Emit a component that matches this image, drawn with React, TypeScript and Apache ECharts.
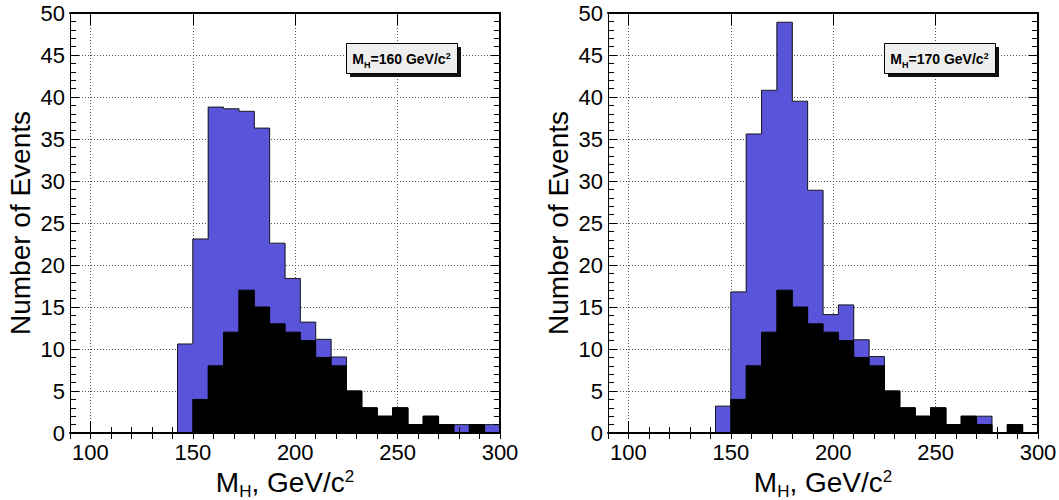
import React, { useEffect, useRef } from "react";
import * as echarts from "echarts";

// ---- data ----
const BIN_WIDTH = 7.5;
const binStarts = [142.5, 150, 157.5, 165, 172.5, 180, 187.5, 195, 202.5, 210, 217.5, 225, 232.5, 240, 247.5, 255, 262.5, 270, 277.5, 285, 292.5];
// signal + background (blue), M_H = 160
const total160 = [10.6, 23.1, 38.8, 38.6, 38.3, 36.3, 22.6, 18.4, 13.2, 11.15, 9.05, 5, 3, 2, 3, 1, 2, 1, 1, 1, 1];
// signal + background (blue), M_H = 170
const total170 = [3.2, 16.8, 35.6, 40.8, 48.9, 39.5, 28.9, 14.1, 15.25, 11.1, 9.1, 5, 3, 2, 3, 1, 2, 2, 0, 1, 0];
// background (black), same in both panels
const background = [0, 4, 8, 12, 17, 15, 13, 12, 11, 9, 8, 5, 3, 2, 3, 1, 2, 1, 0, 1, 0];
const panelLabels = ["160", "170"];

const X_MIN = 90;
const X_MAX = 300;
const Y_MIN = 0;
const Y_MAX = 50;

const BLUE = "#5954D9";
const FONT = "Liberation Sans, Arial, Helvetica, sans-serif";

function barData(vals: number[]) {
  return binStarts.map((x, i) => [x, x + BIN_WIDTH, vals[i]]);
}
function outlineData(vals: number[]) {
  const n = binStarts.length;
  const end = binStarts[n - 1] + BIN_WIDTH;
  const pts: number[][] = [[binStarts[0], 0]];
  binStarts.forEach((x, i) => pts.push([x, vals[i]]));
  pts.push([end, vals[n - 1]]);
  pts.push([end, 0]);
  return pts;
}

function App() {
  const ref = useRef<HTMLDivElement>(null);
  useEffect(() => {
    if (!ref.current) return;
    const chart = echarts.init(ref.current, undefined, { renderer: "svg" });

    const grids = [
      { left: 70, top: 13, width: 430, height: 420, outerBoundsMode: "none", containLabel: false },
      { left: 608, top: 13, width: 430, height: 420, outerBoundsMode: "none", containLabel: false },
    ];

    const xAxes: any[] = [];
    const yAxes: any[] = [];
    const series: any[] = [];
    const graphics: any[] = [];

    grids.forEach((g, gi) => {
      const xBase = xAxes.length;
      const yBase = yAxes.length;
      // grid lines
      xAxes.push({
        gridIndex: gi, type: "value", min: X_MIN, max: X_MAX, splitNumber: 4, position: "bottom", z: 0,
        axisLine: { show: false }, axisTick: { show: false }, axisLabel: { show: false },
        splitLine: { show: true, lineStyle: { color: "#555", type: [1, 2], width: 1 } },
      });
      // main bottom axis
      xAxes.push({
        gridIndex: gi, type: "value", min: X_MIN, max: X_MAX, splitNumber: 4, position: "bottom", z: 10,
        axisLine: { show: true, onZero: false, lineStyle: { color: "#000", width: 2 } },
        axisTick: { show: true, inside: true, length: 12, lineStyle: { color: "#000", width: 1 } },
        axisLabel: {
          show: true, fontSize: 22, color: "#000", fontFamily: FONT, margin: 8,
          formatter: (v: number) => (v % 50 === 0 ? String(v) : ""),
        },
        splitLine: { show: false },
        name: "{m|M}{sub|H}{m|, GeV/c}{sup|2}",
        nameLocation: "middle",
        nameGap: 13,
        nameTextStyle: {
          fontSize: 28, color: "#000", fontFamily: FONT,
          rich: {
            m: { fontSize: 28, fontFamily: FONT, color: "#000", verticalAlign: "middle" },
            sub: { fontSize: 17, fontFamily: FONT, color: "#000", verticalAlign: "bottom", padding: [18, 0, 0, 0] },
            sup: { fontSize: 17, fontFamily: FONT, color: "#000", verticalAlign: "top", padding: [3, 0, 0, 0] },
          },
        },
      });
      // minor bottom ticks
      xAxes.push({
        gridIndex: gi, type: "value", min: X_MIN, max: X_MAX, interval: 10, position: "bottom", z: 10,
        axisLine: { show: false }, axisLabel: { show: false }, splitLine: { show: false },
        axisTick: { show: true, inside: true, length: 6, lineStyle: { color: "#000", width: 1 } },
      });
      // top axis
      xAxes.push({
        gridIndex: gi, type: "value", min: X_MIN, max: X_MAX, splitNumber: 4, position: "top", z: 10,
        axisLine: { show: true, onZero: false, lineStyle: { color: "#000", width: 2 } },
        axisTick: { show: true, inside: true, length: 12, lineStyle: { color: "#000", width: 1 } },
        axisLabel: { show: false }, splitLine: { show: false },
      });
      xAxes.push({
        gridIndex: gi, type: "value", min: X_MIN, max: X_MAX, interval: 10, position: "top", z: 10,
        axisLine: { show: false }, axisLabel: { show: false }, splitLine: { show: false },
        axisTick: { show: true, inside: true, length: 6, lineStyle: { color: "#000", width: 1 } },
      });

      yAxes.push({
        gridIndex: gi, type: "value", min: Y_MIN, max: Y_MAX, interval: 5, position: "left", z: 0,
        axisLine: { show: false }, axisTick: { show: false }, axisLabel: { show: false },
        splitLine: { show: true, lineStyle: { color: "#555", type: [1, 2], width: 1 } },
      });
      yAxes.push({
        gridIndex: gi, type: "value", min: Y_MIN, max: Y_MAX, interval: 5, position: "left", z: 10,
        axisLine: { show: true, onZero: false, lineStyle: { color: "#000", width: 1 } },
        axisTick: { show: true, inside: true, length: 9, lineStyle: { color: "#000", width: 1 } },
        minorTick: { show: true, splitNumber: 5, length: 6, lineStyle: { color: "#000", width: 1 } },
        axisLabel: { show: true, fontSize: 22, color: "#000", fontFamily: FONT, margin: 5 },
        splitLine: { show: false },
        name: "Number of Events",
        nameLocation: "middle",
        nameGap: 36,
        nameTextStyle: { fontSize: 28, color: "#000", fontFamily: FONT },
      });
      yAxes.push({
        gridIndex: gi, type: "value", min: Y_MIN, max: Y_MAX, interval: 5, position: "right", z: 10,
        axisLine: { show: true, onZero: false, lineStyle: { color: "#000", width: 2 } },
        axisTick: { show: true, inside: true, length: 9, lineStyle: { color: "#000", width: 1 } },
        minorTick: { show: true, splitNumber: 5, length: 6, lineStyle: { color: "#000", width: 1 } },
        axisLabel: { show: false }, splitLine: { show: false },
      });

      const totals = gi === 0 ? total160 : total170;
      const rectItem = (color: string) => (params: any, api: any) => {
        const lo = api.value(0);
        const hi = api.value(1);
        const v = api.value(2);
        const p0 = api.coord([lo, v]);
        const p1 = api.coord([hi, 0]);
        return {
          type: "rect",
          shape: { x: p0[0] - 0.3, y: p0[1], width: p1[0] - p0[0] + 0.6, height: p1[1] - p0[1] },
          style: { fill: color, stroke: null },
        };
      };
      series.push({
        type: "custom", xAxisIndex: xBase, yAxisIndex: yBase, z: 2,
        renderItem: rectItem(BLUE), encode: { x: [0, 1], y: 2 }, data: barData(totals),
      });
      series.push({
        type: "line", xAxisIndex: xBase, yAxisIndex: yBase, z: 3, step: "end", symbol: "none",
        lineStyle: { color: "#1a1a1a", width: 1 }, data: outlineData(totals),
      });
      series.push({
        type: "custom", xAxisIndex: xBase, yAxisIndex: yBase, z: 4,
        renderItem: rectItem("#000"), encode: { x: [0, 1], y: 2 }, data: barData(background),
      });
      series.push({
        type: "line", xAxisIndex: xBase, yAxisIndex: yBase, z: 5, step: "end", symbol: "none",
        lineStyle: { color: "#000", width: 1 }, data: outlineData(background),
      });

      const bx = gi === 0 ? 346 : 884;
      const by = 43;
      graphics.push({ type: "rect", left: bx + 4, top: by + 4, z: 20, shape: { width: 111, height: 30 }, style: { fill: "#111" } });
      graphics.push({ type: "rect", left: bx, top: by, z: 21, shape: { width: 111, height: 30 }, style: { fill: "#efefef", stroke: "#000", lineWidth: 1 } });
      graphics.push({
        type: "text", x: bx + 55.5, y: by + 16, z: 22,
        style: {
          text: `{b|M}{s|H}{b|=${panelLabels[gi]} GeV/c}{p|2}`,
          align: "center", verticalAlign: "middle",
          rich: {
            b: { fontSize: 14, fontWeight: "bold", fontFamily: FONT, fill: "#000", color: "#000", verticalAlign: "middle" },
            s: { fontSize: 9, fontWeight: "bold", fontFamily: FONT, fill: "#000", color: "#000", verticalAlign: "bottom", padding: [11, 0, 0, 0] },
            p: { fontSize: 9, fontWeight: "bold", fontFamily: FONT, fill: "#000", color: "#000", verticalAlign: "top", padding: [2, 0, 0, 0] },
          },
        },
      });
    });

    chart.setOption({
      animation: false,
      backgroundColor: "#fff",
      textStyle: { fontFamily: FONT },
      grid: grids,
      xAxis: xAxes,
      yAxis: yAxes,
      series,
      graphic: graphics,
    });
    return () => chart.dispose();
  }, []);
  return <div ref={ref} style={{ position: "absolute", left: 0, top: 0, width: 1059, height: 500 }} />;
}

export default App;
